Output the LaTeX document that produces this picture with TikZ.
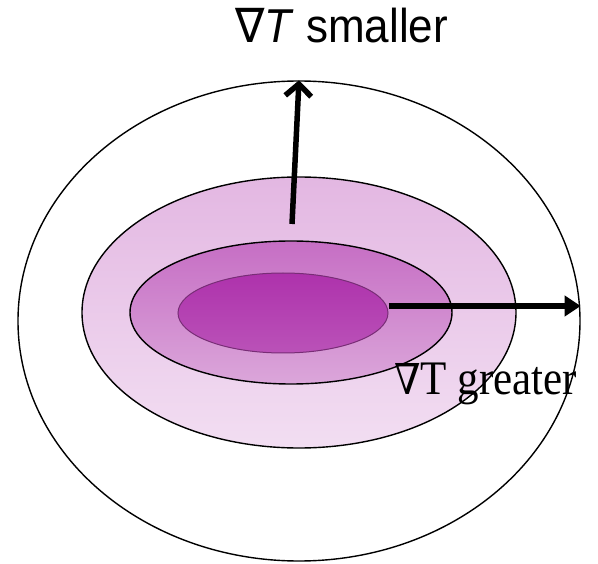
\documentclass[tikz,border=0pt]{standalone}
\usepackage{fontspec}
\setmainfont{Liberation Serif}
\setsansfont{Liberation Sans}
\newfontfamily\nablasans{DejaVu Sans}
\newfontfamily\nablaserif{DejaVu Serif}
\usetikzlibrary{positioning,arrows.meta,shapes.geometric}

\begin{document}
\begin{tikzpicture}[
            x=1pt, y=-1pt,
            ring/.style={
                    ellipse, draw, line width=1.4pt,
                    inner sep=0pt
                },
            arr/.style={line width=5.5pt, line cap=butt},
            lbl/.style={anchor=base west, inner sep=0pt},
            ]
            \useasboundingbox (0,0) rectangle (598,564);

            % temperature zones, outermost first
            \node[ring, minimum width=562pt, minimum height=480pt] (outer) at (299,321) {};
            \node[ring, minimum width=434pt, minimum height=271pt,
                top color={rgb,255:red,227;green,183;blue,226},
                bottom color={rgb,255:red,242;green,222;blue,242}] (warm) at (299,312.5) {};
            \node[ring, minimum width=322pt, minimum height=143pt,
                top color={rgb,255:red,198;green,110;blue,196},
                bottom color={rgb,255:red,219;green,166;blue,218}] (hot) at (291,312.5) {};
            \node[ring, draw={rgb,255:red,120;green,45;blue,118}, line width=1pt,
                minimum width=210pt, minimum height=80pt,
                top color={rgb,255:red,174;green,50;blue,172},
                bottom color={rgb,255:red,186;green,82;blue,184}] (core) at (283,313) {};

            % gradient arrows
            \coordinate (upstart) at (292,224);
            \coordinate (rstart) at (core.east |- 0,306);
            \draw[arr, -{Straight Barb[length=12pt, width=26pt, line width=5.5pt]}] (upstart) -- (outer.north);
            \draw[arr, -{Triangle[length=16pt, width=20pt]}] (rstart) -- (rstart -| outer.east);

            \node[lbl, font=\sffamily\fontsize{44}{50}\selectfont] (small) at (235,43)
                {\scalebox{1}[1.08]{{\nablasans ∇}\textit{T} smaller}};
            \node[lbl, font=\fontsize{43}{50}\selectfont] (great) at (394,395)
                {\scalebox{1}[1.12]{{\nablaserif\fontsize{38}{40}\selectfont ∇}T greater}};
        \end{tikzpicture}
\end{document}
